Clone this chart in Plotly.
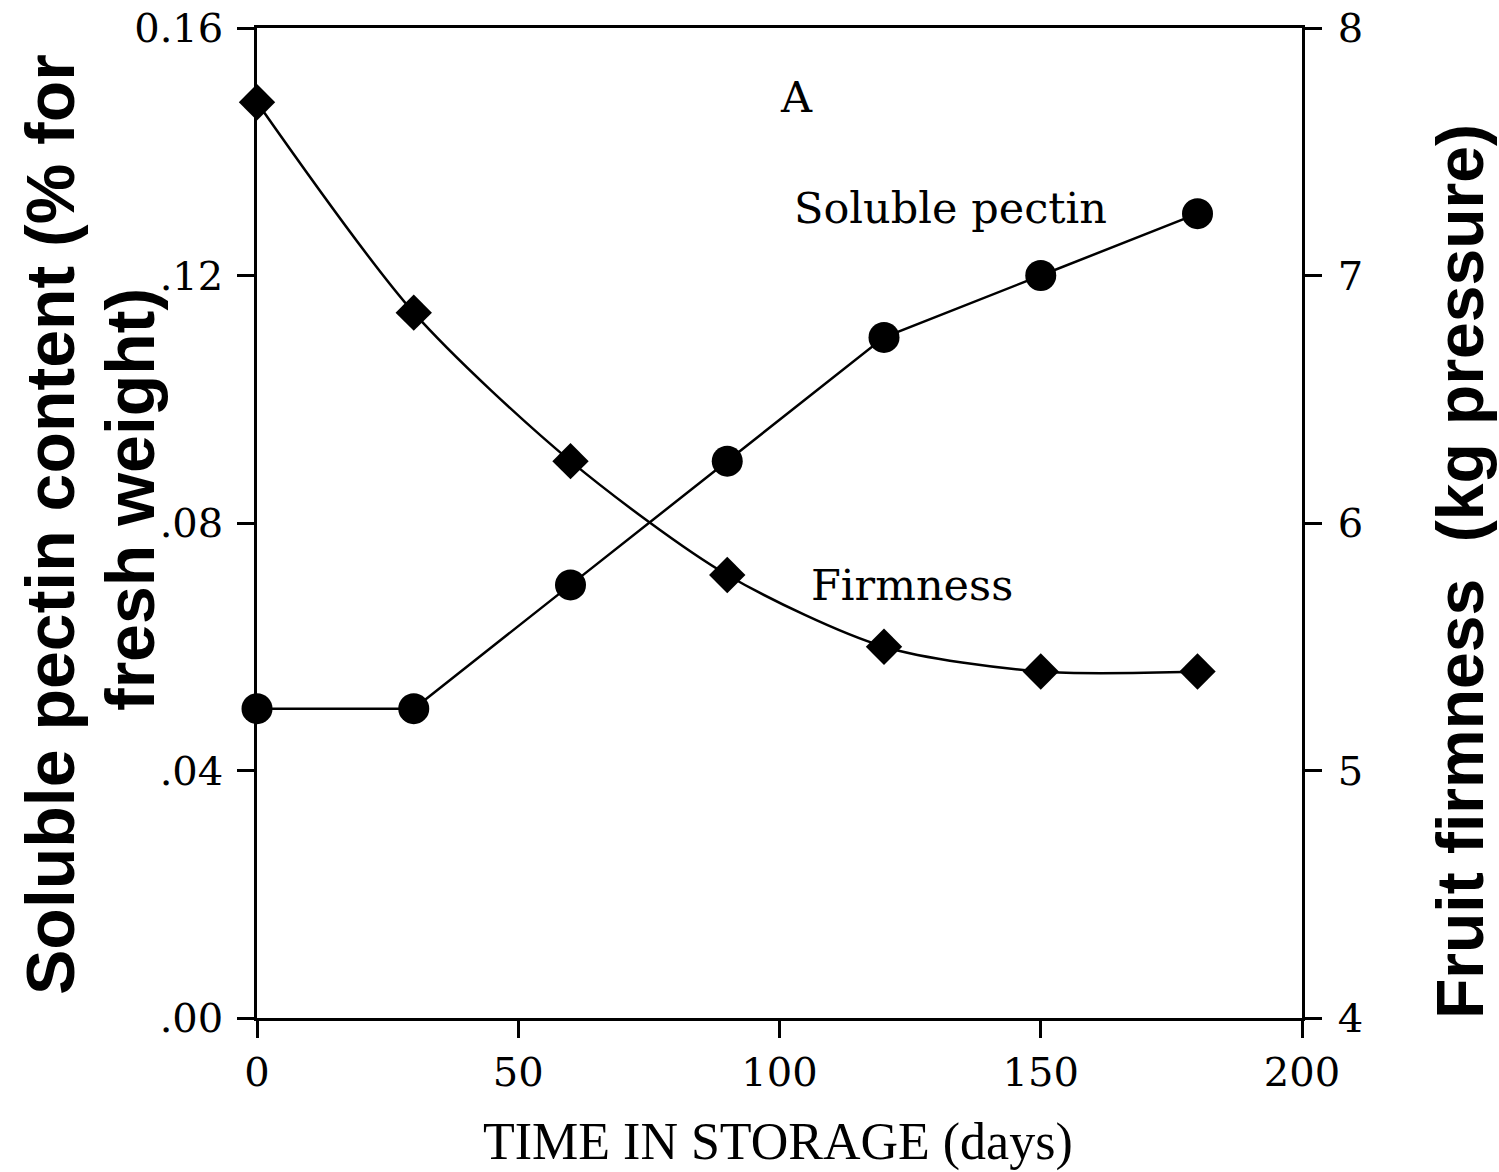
import plotly.graph_objects as go

days = [0, 30, 60, 90, 120, 150, 180]
pectin = [0.050, 0.050, 0.070, 0.090, 0.110, 0.120, 0.130]
firmness = [7.70, 6.85, 6.25, 5.79, 5.50, 5.40, 5.40]

x_ticks = [0, 50, 100, 150, 200]
y_ticks = [0.0, 0.04, 0.08, 0.12, 0.16]
y_ticktext = [".00", ".04", ".08", ".12", "0.16"]
y2_ticks = [4, 5, 6, 7, 8]

W, H = 1499, 1172
L, R, T, B = 257, 1302, 28, 1018

def px(xpix):
    return (xpix - L) / (R - L)

def py(ypix):
    return (B - ypix) / (B - T)

fig = go.Figure()
fig.add_trace(go.Scatter(
    x=days, y=pectin, mode="lines+markers",
    line=dict(color="black", width=2.5),
    marker=dict(symbol="circle", size=31, color="black"),
    name="Soluble pectin", yaxis="y", cliponaxis=False))
fig.add_trace(go.Scatter(
    x=days, y=firmness, mode="lines+markers",
    line=dict(color="black", width=2.5, shape="spline", smoothing=0.8),
    marker=dict(symbol="diamond", size=28, color="black"),
    name="Firmness", yaxis="y2", cliponaxis=False))

tickfont = dict(family="DejaVu Serif", size=40, color="black")
axis_common = dict(showline=True, linecolor="black", linewidth=2.5,
                   ticks="outside", ticklen=17, tickwidth=2.5, tickcolor="black",
                   showgrid=False, zeroline=False, tickfont=tickfont,
                   automargin=False)

fig.update_layout(
    width=W, height=H,
    margin=dict(l=L, r=W - R, t=T, b=H - B),
    paper_bgcolor="white", plot_bgcolor="white",
    showlegend=False,
    xaxis=dict(range=[0, 200], tickvals=x_ticks, mirror=True,
               ticklabelstandoff=0, **axis_common),
    yaxis=dict(range=[0, 0.16], tickvals=y_ticks, ticktext=y_ticktext,
               ticklabelstandoff=6, **axis_common),
    yaxis2=dict(range=[4, 8], tickvals=y2_ticks, overlaying="y", side="right",
                ticklabelstandoff=8, **axis_common),
)

title_font = dict(family="Liberation Sans", size=68, color="black")
anns = [
    dict(text="<b>Soluble pectin content (% for</b>", x=px(50), y=py(525), textangle=-90, font=title_font),
    dict(text="<b>fresh weight)</b>", x=px(130), y=py(500), textangle=-90, font=title_font),
    dict(text="<b>Fruit firmness\u00a0\u00a0(kg pressure)</b>", x=px(1460), y=py(572), textangle=-90,
         font=dict(family="Liberation Sans", size=66, color="black")),
    dict(text="TIME IN STORAGE (days)", x=px(778), y=py(1142),
         font=dict(family="Liberation Serif", size=52, color="black")),
]
for a in anns:
    fig.add_annotation(xref="paper", yref="paper", showarrow=False,
                       xanchor="center", yanchor="middle", **a)

label_font = dict(family="DejaVu Serif", size=43, color="black")
fig.add_annotation(x=103.3, y=0.1489, text="A", showarrow=False, font=label_font)
fig.add_annotation(x=132.8, y=0.1309, text="Soluble pectin", showarrow=False, font=label_font)
fig.add_annotation(x=125.4, y=0.070, text="Firmness", showarrow=False, font=label_font)

fig.write_html("out.html")
